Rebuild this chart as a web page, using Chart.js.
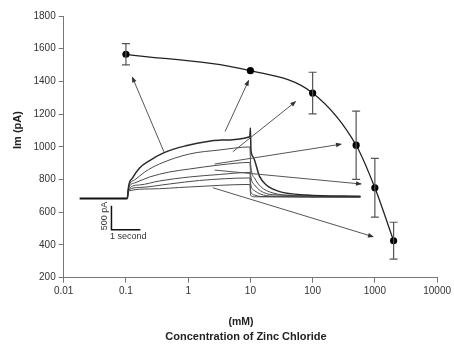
<!DOCTYPE html>
<html>
<head>
<meta charset="utf-8">
<script src="https://cdn.jsdelivr.net/npm/chart.js@4/dist/chart.umd.min.js"></script>
<style>
  html, body { margin: 0; padding: 0; background: #ffffff; }
  #wrap { width: 454px; height: 345px; }
</style>
</head>
<body>
<div id="wrap"><canvas id="c" width="454" height="345"></canvas></div>
<script>
// ---- Main data (concentration of ZnCl2 vs membrane current) ----
const concentrations = [0.1, 10, 100, 500, 1000, 2000];      // mM
const imValues       = [1566, 1466, 1329, 1010, 750, 426];    // pA
const imErrors       = [65, 0, 127, 209, 180, 113];           // pA
const xTickValues    = [0.01, 0.1, 1, 10, 100, 1000, 10000];

// ---- Inset current traces (time in s, current in pA relative to holding) ----
const traceBaseline = [[-1.65, 0], [0, 0]];
const traceA = [[0,0],[0.045,260],[0.18,427],[0.42,635],[0.77,790],[1.25,950],[1.98,1090],[3.19,1215],[4.23,1287],[4.25,1470],[4.27,1000],[4.34,871],[4.57,454],[4.80,281],[5.26,142],[6.18,73],[8.05,45]];
const traceB = [[0,0],[0.045,240],[0.25,385],[0.60,552],[1.11,719],[2.15,927],[3.19,1010],[4.23,1073],[4.26,700],[4.4,420],[4.6,250],[5.0,120],[5.8,60],[8.05,40]];
const traceC = [[0,0],[0.045,219],[0.25,323],[0.77,448],[1.46,552],[2.15,614],[3.19,698],[4.23,750],[4.26,480],[4.4,280],[4.6,160],[5.0,80],[8.05,35]];
const traceD = [[0,0],[0.045,198],[0.42,281],[1.11,365],[2.15,448],[3.19,500],[4.23,542],[4.26,300],[4.4,160],[4.6,90],[5.0,50],[8.05,30]];
const traceE = [[0,0],[0.045,177],[0.42,229],[1.46,302],[2.50,375],[4.23,427],[4.26,150],[4.4,70],[4.6,40],[8.05,30]];
const traceF = [[0,0],[0.045,156],[0.77,198],[2.15,240],[4.23,292],[4.26,60],[4.4,35],[8.05,30]];
const scaleBar = [[-0.55,-150],[-0.55,-650],[0.45,-650]];   // 500 pA / 1 second

// ---- Arrows linking traces to points (main-axis units: mM, pA) ----
const arrowTails = [[0.408, 970], [3.92, 1094], [5.22, 970], [2.66, 895], [2.66, 858], [2.49, 750]];
const arrowTips  = [[0.127, 1425], [9.33, 1404], [53.1, 1276], [286, 1016], [598, 773], [933, 451]];

const FONT = "'Liberation Sans', Arial, sans-serif";
const toXY = arr => arr.map(p => ({x: p[0], y: p[1]}));

const datasets = [];
datasets.push({
  label: 'Im', data: concentrations.map((c, i) => ({x: c, y: imValues[i]})),
  xAxisID: 'x', yAxisID: 'y', borderColor: '#222', borderWidth: 1.3,
  backgroundColor: '#000', pointRadius: 3.6, pointBorderWidth: 0, pointBackgroundColor: '#000',
  cubicInterpolationMode: 'monotone', errorBars: imErrors, order: 0
});
arrowTails.forEach((t, i) => {
  datasets.push({
    label: 'arrow' + i, data: toXY([t, arrowTips[i]]), xAxisID: 'x', yAxisID: 'y',
    borderColor: '#555', borderWidth: 1, pointRadius: 0, isArrow: true, order: 1
  });
});
const traces = [traceA, traceB, traceC, traceD, traceE, traceF];
traces.forEach((tr, i) => {
  datasets.push({
    label: 'trace' + i, data: toXY(tr), xAxisID: 'xT', yAxisID: 'yT',
    borderColor: i === 0 ? '#2a2a2a' : '#4a4a4a', borderWidth: i === 0 ? 1.5 : 1,
    pointRadius: 0, cubicInterpolationMode: 'monotone', order: 2
  });
});
datasets.push({
  label: 'baseline', data: toXY(traceBaseline), xAxisID: 'xT', yAxisID: 'yT',
  borderColor: '#111', borderWidth: 2, pointRadius: 0, order: 2
});
datasets.push({
  label: 'scalebar', data: toXY(scaleBar), xAxisID: 'xT', yAxisID: 'yT',
  borderColor: '#111', borderWidth: 1.5, pointRadius: 0, tension: 0, order: 2
});

const extrasPlugin = {
  id: 'extras',
  afterDatasetsDraw(chart) {
    const ctx = chart.ctx;
    const xs = chart.scales.x, ys = chart.scales.y;
    // error bars
    chart.data.datasets.forEach((ds, di) => {
      if (!ds.errorBars) return;
      ctx.save();
      ctx.strokeStyle = '#555';
      ctx.lineWidth = 1.2;
      ds.data.forEach((p, i) => {
        const e = ds.errorBars[i];
        if (!e) return;
        const px = xs.getPixelForValue(p.x);
        const top = ys.getPixelForValue(p.y + e), bot = ys.getPixelForValue(p.y - e);
        ctx.beginPath();
        ctx.moveTo(px, top); ctx.lineTo(px, bot);
        ctx.moveTo(px - 4, top); ctx.lineTo(px + 4, top);
        ctx.moveTo(px - 4, bot); ctx.lineTo(px + 4, bot);
        ctx.stroke();
      });
      ctx.restore();
    });
    // arrowheads
    chart.data.datasets.forEach((ds, di) => {
      if (!ds.isArrow) return;
      const pts = chart.getDatasetMeta(di).data;
      const a = pts[pts.length - 2], b = pts[pts.length - 1];
      const ang = Math.atan2(b.y - a.y, b.x - a.x);
      ctx.save();
      ctx.translate(b.x, b.y);
      ctx.rotate(ang);
      ctx.fillStyle = '#333';
      ctx.beginPath();
      ctx.moveTo(1, 0); ctx.lineTo(-5, -2.3); ctx.lineTo(-5, 2.3); ctx.closePath();
      ctx.fill();
      ctx.restore();
    });
    // texts
    ctx.save();
    ctx.fillStyle = '#222';
    ctx.textAlign = 'center';
    ctx.textBaseline = 'middle';
    ctx.font = 'bold 10.5px ' + FONT;
    ctx.fillText('(mM)', 241, 322);
    ctx.font = 'bold 11px ' + FONT;
    ctx.fillText('Concentration of Zinc Chloride', 246, 337);
    ctx.save();
    ctx.translate(17.5, 130);
    ctx.rotate(-Math.PI / 2);
    ctx.font = 'bold 11px ' + FONT;
    ctx.fillText('Im (pA)', 0, 0);
    ctx.restore();
    ctx.fillStyle = '#333';
    ctx.font = '9px ' + FONT;
    ctx.save();
    ctx.translate(105, 216);
    ctx.rotate(-Math.PI / 2);
    ctx.fillText('500 pA', 0, 0);
    ctx.restore();
    ctx.textAlign = 'left';
    ctx.fillText('1 second', 110, 237);
    ctx.restore();
  }
};

new Chart(document.getElementById('c'), {
  type: 'line',
  data: { datasets },
  options: {
    responsive: false,
    animation: false,
    devicePixelRatio: 1,
    layout: { padding: { top: 16, right: 16, left: 0, bottom: 0 } },
    plugins: { legend: { display: false }, tooltip: { enabled: false } },
    scales: {
      x: {
        type: 'logarithmic', min: 0.01, max: 10000, position: 'bottom',
        afterBuildTicks: s => { s.ticks = xTickValues.map(v => ({ value: v, major: true })); },
        afterFit: s => { s.height = 67.3; },
        ticks: { color: '#333', font: { family: FONT, size: 10 }, padding: 3, maxRotation: 0, autoSkip: false,
                 callback: v => String(v) },
        grid: { drawOnChartArea: false, tickLength: 5, color: '#777' },
        border: { color: '#777', width: 1 }
      },
      y: {
        type: 'linear', min: 200, max: 1800, position: 'left',
        afterFit: s => { s.width = 63.7; },
        ticks: { stepSize: 200, color: '#333', font: { family: FONT, size: 10 }, padding: 3,
                 callback: v => String(v) },
        grid: { drawOnChartArea: false, tickLength: 5, color: '#777' },
        border: { color: '#777', width: 1 }
      },
      xT: { type: 'linear', min: -2.2, max: 10.7, display: false },
      yT: { type: 'linear', min: -1650, max: 3800, display: false }
    }
  },
  plugins: [extrasPlugin]
});
</script>
</body>
</html>
